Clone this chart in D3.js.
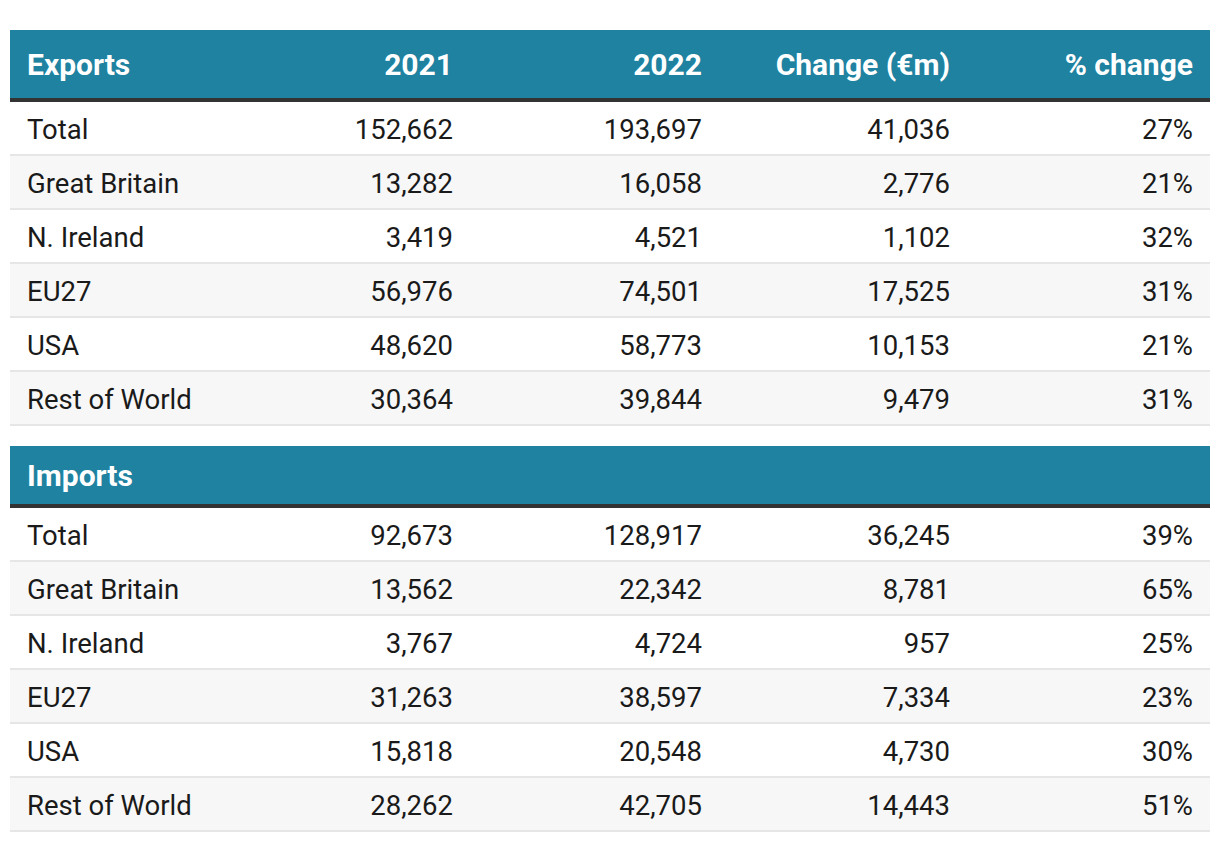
<!DOCTYPE html>
<html><head><meta charset="utf-8">
<script src="https://cdn.jsdelivr.net/npm/d3@7"></script>
<style>body{margin:0;background:#fff}svg{display:block}</style>
</head><body>
<svg id="c" width="1220" height="842"></svg>
<script>
const columns = ["2021", "2022", "Change (€m)", "% change"];
const regions = ["Total", "Great Britain", "N. Ireland", "EU27", "USA", "Rest of World"];
const exports2021 = [152662, 13282, 3419, 56976, 48620, 30364];
const exports2022 = [193697, 16058, 4521, 74501, 58773, 39844];
const exportsChange = [41036, 2776, 1102, 17525, 10153, 9479];
const exportsPct = [27, 21, 32, 31, 21, 31];
const imports2021 = [92673, 13562, 3767, 31263, 15818, 28262];
const imports2022 = [128917, 22342, 4724, 38597, 20548, 42705];
const importsChange = [36245, 8781, 957, 7334, 4730, 14443];
const importsPct = [39, 65, 25, 23, 30, 51];

const sections = [
  {title: "Exports", showCols: true, top: 30, headH: 68,
   rows: regions.map((r,i)=>[r, exports2021[i], exports2022[i], exportsChange[i], exportsPct[i]])},
  {title: "Imports", showCols: false, top: 446, headH: 58,
   rows: regions.map((r,i)=>[r, imports2021[i], imports2022[i], importsChange[i], importsPct[i]])}
];

const svg = d3.select("#c");
const X0 = 10, X1 = 1210, rowH = 54, borderH = 4, labelX = 27;
const colRight = d3.scaleOrdinal().domain(columns).range([453, 702, 950, 1193]);
const fmt = d3.format(",");
const font = "Roboto, 'Noto Sans', sans-serif";
const bodyFS = 27.5, headFS = 30;

sections.forEach(sec => {
  const g = svg.append("g");
  g.append("rect").attr("x", X0).attr("y", sec.top).attr("width", X1-X0).attr("height", sec.headH).attr("fill", "#1f82a1");
  g.append("rect").attr("x", X0).attr("y", sec.top+sec.headH).attr("width", X1-X0).attr("height", borderH).attr("fill", "#333333");
  const hy = sec.top + sec.headH/2;
  g.append("text").attr("x", labelX).attr("y", hy).attr("dy", "0.35em")
    .attr("font-family", font).attr("font-weight", "bold").attr("font-size", headFS).attr("fill", "#fff").text(sec.title);
  if (sec.showCols) {
    columns.forEach(c => {
      g.append("text").attr("x", colRight(c)).attr("y", hy).attr("dy", "0.35em").attr("text-anchor", "end")
        .attr("font-family", font).attr("font-weight", "bold").attr("font-size", headFS).attr("fill", "#fff").text(c);
    });
  }
  const y0 = sec.top + sec.headH + borderH;
  const yScale = d3.scaleLinear().domain([0, 1]).range([y0, y0 + rowH]);
  sec.rows.forEach((row, i) => {
    const ry = yScale(i);
    g.append("rect").attr("x", X0).attr("y", ry).attr("width", X1-X0).attr("height", rowH)
      .attr("fill", i % 2 ? "#f7f7f7" : "#ffffff");
    g.append("rect").attr("x", X0).attr("y", ry + rowH - 2).attr("width", X1-X0).attr("height", 2).attr("fill", "#e6e6e6");
    const cy = ry + (rowH-2)/2 + 1;
    g.append("text").attr("x", labelX).attr("y", cy).attr("dy", "0.35em")
      .attr("font-family", font).attr("font-size", bodyFS).attr("fill", "#1a1a1a").text(row[0]);
    columns.forEach((c, j) => {
      const v = row[j+1];
      const t = j === 3 ? v + "%" : fmt(v);
      g.append("text").attr("x", colRight(c)).attr("y", cy).attr("dy", "0.35em").attr("text-anchor", "end")
        .attr("font-family", font).attr("font-size", bodyFS).attr("fill", "#1a1a1a").text(t);
    });
  });
});
</script>
</body></html>
